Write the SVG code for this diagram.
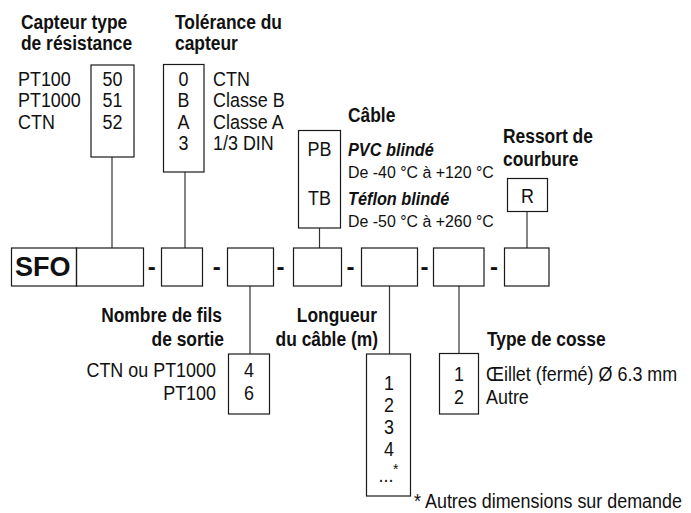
<svg xmlns="http://www.w3.org/2000/svg" width="691" height="513" viewBox="0 0 691 513">
<style>
  .bx{fill:none;stroke:#1a1a1a;stroke-width:1.2}
  .ln{fill:none;stroke:#333;stroke-width:1.2}
  text{font-family:"Liberation Sans",Arial,sans-serif;fill:#111;transform-box:fill-box;transform-origin:left center}
  .r{font-size:19.5px;transform:scaleX(0.92)}
  .s{font-size:17.3px;transform:scaleX(0.92)}
  .h{font-size:20px;font-weight:bold;transform:scaleX(0.87)}
  .bi{font-size:18.5px;font-weight:bold;font-style:italic;transform:scaleX(0.88)}
  .d{font-size:24px;font-weight:bold;text-anchor:middle}
  .m{text-anchor:middle;transform-origin:center}
  .e{text-anchor:end;transform-origin:right center}
</style>
<rect width="691" height="513" fill="#fff"/>
<g id="connectors">
  <line class="ln" x1="112" y1="157" x2="112" y2="248"/>
  <line class="ln" x1="185" y1="172" x2="185" y2="248"/>
  <line class="ln" x1="319.5" y1="228" x2="319.5" y2="248"/>
  <line class="ln" x1="527" y1="212" x2="527" y2="248"/>
  <line class="ln" x1="250" y1="286" x2="250" y2="354"/>
  <line class="ln" x1="389.5" y1="286" x2="389.5" y2="354"/>
  <line class="ln" x1="459" y1="286" x2="459" y2="353"/>
</g>
<g id="main-code">
  <rect class="bx" x="11.5" y="248" width="65" height="38"/>
  <text x="15" y="276" style="font-size:27px;font-weight:bold">SFO</text>
  <rect class="bx" x="76.5" y="248" width="67" height="38"/>
  <text class="d" x="151.7" y="274.5">-</text>
  <rect class="bx" x="161.5" y="248" width="41" height="38"/>
  <text class="d" x="216.7" y="274.5">-</text>
  <rect class="bx" x="227.5" y="248" width="46" height="38"/>
  <text class="d" x="280.5" y="274.5">-</text>
  <rect class="bx" x="293.5" y="248" width="48" height="38"/>
  <text class="d" x="350.5" y="274.5">-</text>
  <rect class="bx" x="361.5" y="248" width="56" height="38"/>
  <text class="d" x="424.5" y="274.5">-</text>
  <rect class="bx" x="433.5" y="248" width="50.5" height="38"/>
  <text class="d" x="494" y="274.5">-</text>
  <rect class="bx" x="504.5" y="248" width="44.5" height="38"/>
</g>
<g id="capteur">
  <text class="h" x="21" y="29">Capteur type</text>
  <text class="h" x="21" y="50.5">de résistance</text>
  <rect class="bx" x="91" y="65" width="43" height="92"/>
  <text class="r" x="18" y="86">PT100</text>
  <text class="r" x="18" y="107.5">PT1000</text>
  <text class="r" x="18" y="129">CTN</text>
  <text class="r m" x="112.5" y="86">50</text>
  <text class="r m" x="112.5" y="107.5">51</text>
  <text class="r m" x="112.5" y="129">52</text>
</g>
<g id="tolerance">
  <text class="h" x="175" y="29">Tolérance du</text>
  <text class="h" x="175" y="50.5">capteur</text>
  <rect class="bx" x="163.5" y="64.5" width="40.5" height="107.5"/>
  <text class="r m" x="183.5" y="86">0</text>
  <text class="r m" x="183.5" y="107.5">B</text>
  <text class="r m" x="183.5" y="129">A</text>
  <text class="r m" x="183.5" y="150.5">3</text>
  <text class="r" x="213" y="86">CTN</text>
  <text class="r" x="213" y="107.5">Classe B</text>
  <text class="r" x="213" y="129">Classe A</text>
  <text class="r" x="213" y="150.5">1/3 DIN</text>
</g>
<g id="cable">
  <text class="h" x="348" y="122">Câble</text>
  <rect class="bx" x="298.5" y="130.5" width="42" height="97.5"/>
  <text class="r m" x="319.5" y="156">PB</text>
  <text class="r m" x="319.5" y="205">TB</text>
  <text class="bi" x="348" y="156">PVC blindé</text>
  <text class="s" x="348" y="178">De -40 °C à +120 °C</text>
  <text class="bi" x="348" y="205">Téflon blindé</text>
  <text class="s" x="348" y="227">De -50 °C à +260 °C</text>
</g>
<g id="ressort">
  <text class="h" x="503" y="143">Ressort de</text>
  <text class="h" x="503" y="166.5">courbure</text>
  <rect class="bx" x="507.5" y="178.5" width="40" height="33"/>
  <text class="r m" x="527.5" y="203">R</text>
</g>
<g id="fils">
  <text class="h e" x="222" y="322">Nombre de fils</text>
  <text class="h e" x="224" y="346">de sortie</text>
  <rect class="bx" x="228.5" y="354" width="41" height="60"/>
  <text class="r e" x="216" y="377.5">CTN ou PT1000</text>
  <text class="r e" x="216" y="400">PT100</text>
  <text class="r m" x="249" y="377.5">4</text>
  <text class="r m" x="249" y="400">6</text>
</g>
<g id="longueur">
  <text class="h e" x="377" y="322">Longueur</text>
  <text class="h e" x="378" y="346">du câble (m)</text>
  <rect class="bx" x="366.5" y="354" width="44" height="142"/>
  <text class="r m" x="389" y="390">1</text>
  <text class="r m" x="389" y="412">2</text>
  <text class="r m" x="389" y="434">3</text>
  <text class="r m" x="389" y="456">4</text>
  <text class="r m" x="386" y="482">...</text>
  <text x="393" y="474" style="font-size:14px">*</text>
  <text class="r" x="414" y="508">* Autres dimensions sur demande</text>
</g>
<g id="cosse">
  <text class="h" x="487" y="346">Type de cosse</text>
  <rect class="bx" x="439.5" y="353.5" width="39" height="60.5"/>
  <text class="r m" x="459" y="381.5">1</text>
  <text class="r m" x="459" y="404">2</text>
  <text class="r" x="486" y="381.5">Œillet (fermé) Ø 6.3 mm</text>
  <text class="r" x="486" y="404">Autre</text>
</g>
</svg>
